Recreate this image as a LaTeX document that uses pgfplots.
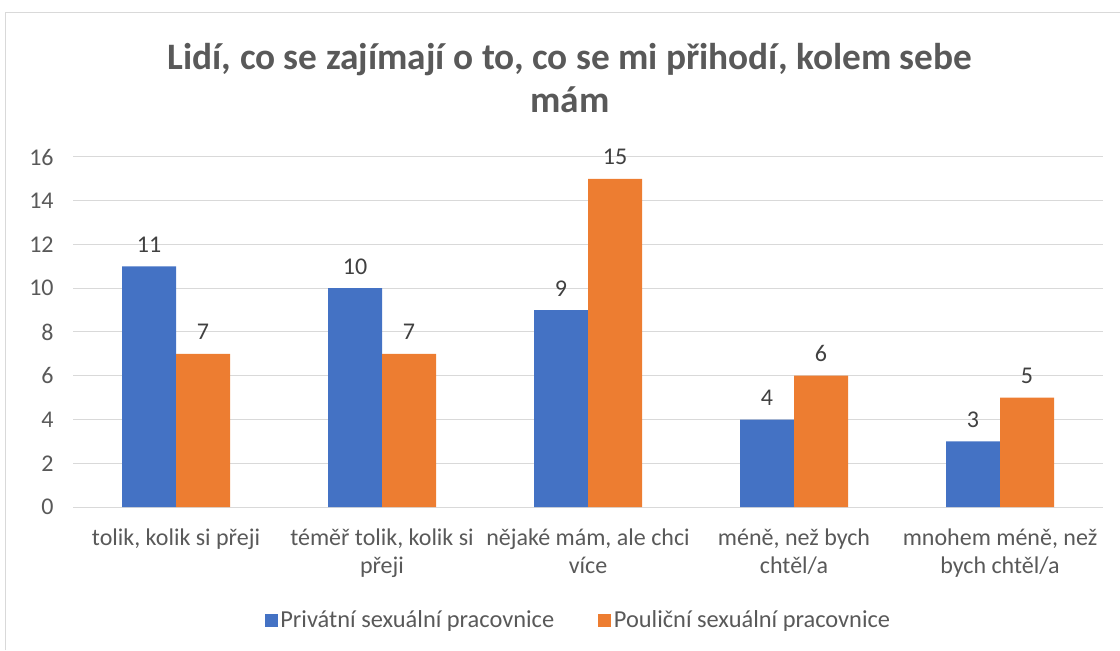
\documentclass[border=0pt]{standalone}
\usepackage{fontspec}
\setmainfont{Carlito}
\usepackage{pgfplots}
\pgfplotsset{compat=1.18}
\definecolor{cblue}{HTML}{4472C4}
\definecolor{corange}{HTML}{ED7D31}
\definecolor{ctext}{HTML}{595959}
\definecolor{clabel}{HTML}{404040}
\definecolor{cgrid}{HTML}{D9D9D9}
\begin{document}
\begin{tikzpicture}[x=0.75pt,y=0.75pt]
\path[use as bounding box] (0,0) rectangle (1120,650);
\draw[cgrid, line width=0.75pt] (5,0) -- (5,637) -- (1120,637);
\node[font=\fontsize{28}{32}\selectfont\bfseries, text=ctext, align=center] at (570,572) {Lidí, co se zajímají o to, co se mi přihodí, kolem sebe\\mám};
\begin{axis}[
  at={(54.75pt,107.25pt)}, anchor=south west,
  scale only axis, width=772.5pt, height=262.5pt,
  ybar=0pt, bar width=40.5pt,
  ymin=0, ymax=16, xmin=-0.5, xmax=4.5,
  ytick={0,2,...,16}, xtick={0,1,2,3,4},
  xticklabels={{tolik, kolik si přeji},{téměř tolik, kolik si\\přeji},{nějaké mám, ale chci\\více},{méně, než bych\\chtěl/a},{mnohem méně, než\\bych chtěl/a}},
  ymajorgrids, grid style={cgrid, line width=0.75pt},
  axis line style={draw=none}, major tick length=0pt,
  tick label style={font=\fontsize{18}{21}\selectfont, text=ctext},
  xticklabel style={align=center, yshift=-13pt},
  yticklabel style={xshift=-11pt},
  /pgf/number format/assume math mode=true,
  nodes near coords,
  every node near coord/.append style={font=\fontsize{18}{21}\selectfont, text=clabel, yshift=7pt},
  legend columns=2,
  legend style={at={(0.491,-0.323)}, anchor=center, draw=none, fill=none,
    font=\fontsize{18.3}{21}\selectfont, text=ctext,
    /tikz/every even column/.append style={column sep=31pt}},
  legend image code/.code={\fill[#1] (0pt,-4.9pt) rectangle (9.75pt,4.9pt);},
]
\addplot[fill=cblue, draw=none] coordinates {(0,11) (1,10) (2,9) (3,4) (4,3)};
\addplot[fill=corange, draw=none] coordinates {(0,7) (1,7) (2,15) (3,6) (4,5)};
\legend{Privátní sexuální pracovnice, Pouliční sexuální pracovnice}
\end{axis}
\end{tikzpicture}
\end{document}
